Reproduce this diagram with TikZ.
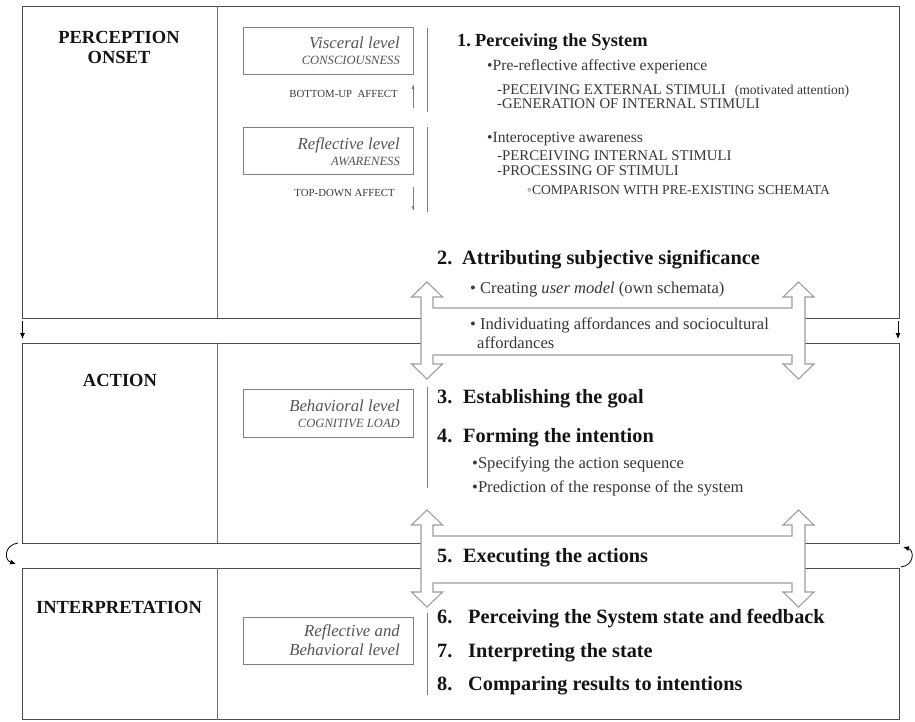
\documentclass[tikz,border=0pt]{standalone}
\usepackage{fontspec}
\setmainfont{Liberation Serif}
\usetikzlibrary{arrows.meta}
\definecolor{boxline}{gray}{0.30}
\definecolor{lvlline}{gray}{0.50}
\definecolor{hline}{gray}{0.62}
\definecolor{txtdark}{gray}{0.08}
\definecolor{txtreg}{gray}{0.22}
\definecolor{txtlvl}{gray}{0.33}
\begin{document}
\begin{tikzpicture}[x=1pt,y=-1pt,
  bigbox/.style={draw=boxline,line width=1pt},
  divline/.style={draw=boxline!80,line width=0.8pt},
  lvlbox/.style={draw=lvlline,line width=0.8pt},
  vline/.style={draw=lvlline,line width=0.8pt},
  hshapestyle/.style={draw=hline,fill=white,line width=1.1pt,line join=miter},
  phase/.style={anchor=base,inner sep=0pt,text=txtdark,font=\fontsize{18.5}{20.5}\selectfont\bfseries},
  stepa/.style={anchor=base west,inner sep=0pt,text=txtdark,font=\fontsize{18.4}{20}\selectfont\bfseries},
  stepb/.style={anchor=base west,inner sep=0pt,text=txtdark,font=\fontsize{20.3}{22}\selectfont\bfseries},
  itemtxt/.style={anchor=base west,inner sep=0pt,text=txtreg,font=\fontsize{15.6}{17}\selectfont},
  itemtxtb/.style={anchor=base west,inner sep=0pt,text=txtreg,font=\fontsize{16.6}{18}\selectfont},
  capstxt/.style={anchor=base west,inner sep=0pt,text=txtreg,font=\fontsize{14.8}{16}\selectfont},
  lvlit/.style={anchor=base east,inner sep=0pt,text=txtlvl,font=\fontsize{16.8}{18}\selectfont\itshape},
  lvlcaps/.style={anchor=base east,inner sep=0pt,text=txtlvl,font=\fontsize{12.6}{14}\selectfont\itshape},
  affect/.style={anchor=base east,inner sep=0pt,text=txtreg,font=\fontsize{10.8}{12}\selectfont},
  smallline/.style={draw=lvlline,line width=0.5pt},
  smallhead/.style={fill=lvlline},
  bandarrow/.style={draw=black,line width=0.8pt,-{Latex[length=6pt,width=5pt]}},
]
\useasboundingbox (0,0) rectangle (915,721);
\fill[white] (0,0) rectangle (915,721);

% --- main boxes ---
\draw[bigbox] (22,6) rectangle (899,318);
\draw[bigbox] (22,343) rectangle (899,543);
\draw[bigbox] (22,568) rectangle (899,719.5);
\draw[divline] (217,6) -- (217,318);
\draw[divline] (217,343) -- (217,543);
\draw[divline] (217,568) -- (217,719.5);

% --- H shaped double arrows ---
\foreach \yy in {282,510}{
\begin{scope}[shift={(0,\yy)}]
\draw[hshapestyle] (427,0) -- (442.5,15) -- (433,15) -- (433,26) -- (792,26) -- (792,15) -- (783,15)
 -- (798.5,0) -- (814,15) -- (805,15) -- (805,82) -- (814,82) -- (798.5,97) -- (783,82) -- (792,82)
 -- (792,73) -- (433,73) -- (433,82) -- (442.5,82) -- (427,97) -- (411.5,82) -- (421,82) -- (421,15)
 -- (411.5,15) -- cycle;
\end{scope}}

% --- band arrows ---
\coordinate (la1) at (22.5,321);
\coordinate (la2) at (22.5,339);
\coordinate (ra1) at (898,321);
\coordinate (ra2) at (898,339);
\draw[bandarrow] (la1) -- (la2);
\draw[bandarrow] (ra1) -- (ra2);
\coordinate (lc1) at (18,543);
\coordinate (lc2) at (16,564);
\coordinate (rc1) at (901,567);
\coordinate (rc2) at (903,547);
\draw[bandarrow] (lc1) .. controls (4,545) and (4,560) .. (lc2);
\draw[bandarrow] (rc1) .. controls (915,565) and (914,550) .. (rc2);

% --- phase labels ---
\node[phase] (pon) at (119,43) {PERCEPTION};
\node[phase] (pon2) at (119,63) {ONSET};
\node[phase] (pac) at (120,386) {ACTION};
\node[phase] (pin) at (119,613) {INTERPRETATION};

% --- level boxes ---
\draw[lvlbox] (243,27) rectangle (413,74);
\draw[lvlbox] (243,127) rectangle (413,174);
\draw[lvlbox] (243,389) rectangle (413,437);
\draw[lvlbox] (243,617) rectangle (413,664);
\node[lvlit] (lv1) at (400,48) {Visceral level};
\node[lvlcaps] (lv1c) at (400,64) {CONSCIOUSNESS};
\node[lvlit] (lv2) at (400,149) {Reflective level};
\node[lvlcaps] (lv2c) at (400,165) {AWARENESS};
\node[lvlit] (lv3) at (400,411) {Behavioral level};
\node[lvlcaps] (lv3c) at (400,427) {COGNITIVE LOAD};
\node[lvlit] (lv4) at (400,636) {Reflective and};
\node[lvlit] (lv4b) at (400,655) {Behavioral level};

\node[affect] (bu) at (398,97) {BOTTOM-UP\ \ AFFECT};
\node[affect] (td) at (395,196) {TOP-DOWN AFFECT};
\coordinate (bua) at (413,108);
\coordinate (bub) at (413,85);
\coordinate (tda) at (413,187);
\coordinate (tdb) at (413,210);
\draw[smallline] (bua) -- (bub);
\fill[smallhead] (bub) -- ++(1.4,4) -- ++(-2.8,0) -- cycle;
\draw[smallline] (tda) -- (tdb);
\fill[smallhead] (tdb) -- ++(1.4,-4) -- ++(-2.8,0) -- cycle;

% --- vertical separators ---
\draw[vline] (427,28) -- (427,112);
\draw[vline] (427,127) -- (427,212);
\draw[vline] (427,387) -- (427,488);
\draw[vline] (427,613) -- (427,695);

% --- step texts ---
\node[stepa] (s1) at (457,46) {\makebox[18pt][l]{1.}Perceiving the System};
\node[itemtxt] (s1a) at (487,70) {•Pre-reflective affective experience};
\node[capstxt] (s1a1) at (497,94) {-PECEIVING EXTERNAL STIMULI\hspace{9pt}{\fontsize{13.6}{15}\selectfont(motivated attention)}};
\node[capstxt] (s1a2) at (497,108) {-GENERATION OF INTERNAL STIMULI};
\node[itemtxt] (s1b) at (487,142) {•Interoceptive awareness};
\node[capstxt] (s1b1) at (497,160) {-PERCEIVING INTERNAL STIMULI};
\node[capstxt] (s1b2) at (497,175) {-PROCESSING OF STIMULI};
\node[capstxt,font=\fontsize{13.6}{15}\selectfont] (s1b3) at (527,194) {◦COMPARISON WITH PRE-EXISTING SCHEMATA};

\node[stepb] (s2) at (437,264) {\makebox[25pt][l]{2.}Attributing subjective significance};
\node[itemtxtb] (s2a) at (470,293) {• Creating \textit{user model} (own schemata)};
\node[itemtxtb] (s2b) at (470,329) {• Individuating affordances and sociocultural};
\node[itemtxtb] (s2c) at (477,348) {affordances};

\node[stepb] (s3) at (437,403) {\makebox[26pt][l]{3.}Establishing the goal};
\node[stepb] (s4) at (437,442) {\makebox[26pt][l]{4.}Forming the intention};
\node[itemtxtb] (s4a) at (472,468) {•Specifying the action sequence};
\node[itemtxtb] (s4b) at (472,492) {•Prediction of the response of the system};

\node[stepb] (s5) at (437,562) {\makebox[26pt][l]{5.}Executing the actions};
\node[stepb] (s6) at (437,623) {\makebox[31pt][l]{6.}Perceiving the System state and feedback};
\node[stepb] (s7) at (437,657) {\makebox[31pt][l]{7.}Interpreting the state};
\node[stepb] (s8) at (437,690) {\makebox[31pt][l]{8.}Comparing results to intentions};
\end{tikzpicture}
\end{document}
